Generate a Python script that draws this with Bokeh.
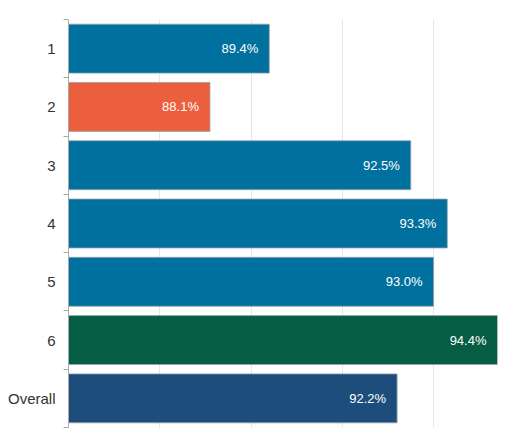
from bokeh.plotting import figure
from bokeh.models import ColumnDataSource, FixedTicker, Range1d
from bokeh.core.properties import value
from bokeh.embed import file_html
from bokeh.resources import INLINE

categories = ["1", "2", "3", "4", "5", "6", "Overall"]
values = [89.4, 88.1, 92.5, 93.3, 93.0, 94.4, 92.2]
colors = ["#00709e", "#eb5e3e", "#00709e", "#00709e", "#00709e", "#055e43", "#1d4d7b"]
labels = ["89.4%", "88.1%", "92.5%", "93.3%", "93.0%", "94.4%", "92.2%"]
x_start = 85
x_ticks = [85, 87, 89, 91, 93]

n = len(categories)
ypos = [n - i - 0.5 for i in range(n)]

src = ColumnDataSource(dict(cat=categories, val=values, color=colors, label=labels,
                            y=ypos, left=[x_start] * n))

p = figure(width=504, height=430, output_backend="svg", toolbar_location=None,
           x_range=Range1d(x_start, max(values)), y_range=Range1d(0, n),
           min_border_left=68, min_border_right=7, min_border_top=19, min_border_bottom=3)
p.outline_line_color = None
p.background_fill_color = "white"
p.border_fill_color = "white"

p.hbar(y="y", left="left", right="val", height=0.84, source=src,
       fill_color="color", line_color="#9aa4aa", line_alpha=0.8, line_width=1)

p.text(x="val", y="y", text="label", source=src, x_offset=-11,
       text_align="right", text_baseline="middle", text_color="white",
       text_font=value("Liberation Sans"), text_font_size="13px")

# x axis: hidden, grid only
p.xaxis.visible = False
p.xgrid.ticker = FixedTicker(ticks=x_ticks)
p.xgrid.grid_line_color = "#e6e6e6"
p.ygrid.grid_line_color = None

yax = p.yaxis[0]
yax.ticker = FixedTicker(ticks=ypos, minor_ticks=list(range(n + 1)))
yax.major_label_overrides = {y: c for y, c in zip(ypos, categories)}
yax.major_tick_line_color = None
yax.major_tick_out = 0
yax.major_tick_in = 0
yax.minor_tick_line_color = "#aaaaaa"
yax.minor_tick_out = 5
yax.minor_tick_in = 0
yax.axis_line_color = "#aaaaaa"
yax.major_label_standoff = 8
yax.major_label_text_font = "Liberation Sans"
yax.major_label_text_font_size = "15px"
yax.major_label_text_color = "#333333"

open("out.html", "w").write(file_html(p, INLINE))
